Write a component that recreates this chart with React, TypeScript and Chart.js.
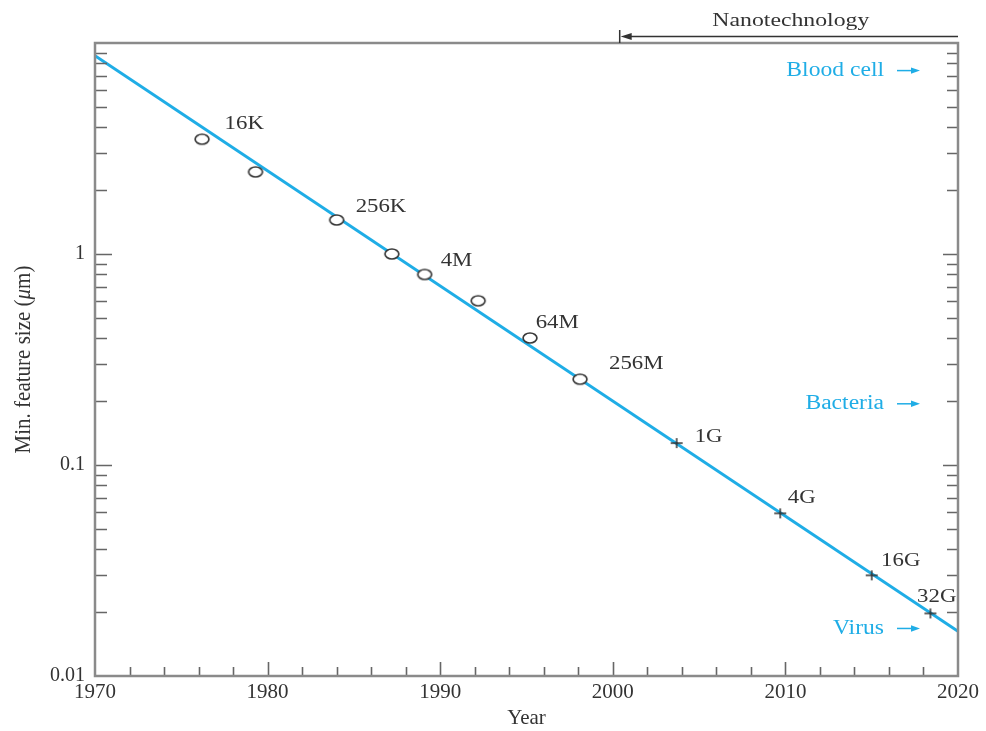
import React, { useEffect, useRef } from 'react';
import { Chart, registerables } from 'chart.js';

Chart.register(...registerables);

// ---------------- data ----------------
const xTickYears = [1970, 1980, 1990, 2000, 2010, 2020];
const yTickValues = [0.01, 0.1, 1];
const yTickLabels = ['0.01', '0.1', '1'];

const fitYears = [1970, 2020];
const fitSizes = [8.7, 0.0163];

const circleYears = [1976.2, 1979.3, 1984.0, 1987.2, 1989.1, 1992.2, 1995.2, 1998.1];
const circleSizes = [3.5, 2.45, 1.45, 1.0, 0.8, 0.6, 0.4, 0.255];
const circleLabels = ['16K', '', '256K', '', '4M', '', '64M', '256M'];

const plusYears = [2003.7, 2009.7, 2015.0, 2018.4];
const plusSizes = [0.127, 0.059, 0.03, 0.0198];
const plusLabels = ['1G', '4G', '16G', '32G'];

const refNames = ['Blood cell', 'Bacteria', 'Virus'];
const refSizes = [7.4, 0.195, 0.0168];

const nanoStartYear = 2000.4;
const nanoLabel = 'Nanotechnology';

const xTitle = 'Year';
const yTitleParts = ['Min. feature size (', 'μ', 'm)'];

// ---------------- styles ----------------
const FONT = '"Liberation Serif", "Times New Roman", serif';
const BLUE = '#1fade6';
const TEXT = '#333333';
const AXIS = '#8a8a8a';
const TICK = '#666666';
const STRETCH = 1.2;

// label offsets (dx to text left edge, dy to text middle) relative to the marker
const LABEL_OFFSETS: Record<string, [number, number]> = {
  '16K': [22.6, -15],
  '256K': [19, -13.3],
  '4M': [16, -13],
  '64M': [5.7, -15],
  '256M': [29, -15],
  '1G': [18, -6],
  '4G': [7.6, -15],
  '16G': [9.4, -14],
  '32G': [-13.3, -16.7],
};

function makeCircle(): HTMLCanvasElement {
  const c = document.createElement('canvas');
  c.width = 18;
  c.height = 14;
  const g = c.getContext('2d')!;
  g.beginPath();
  g.ellipse(9, 7, 6.9, 5.0, 0, 0, Math.PI * 2);
  g.fillStyle = '#ffffff';
  g.fill();
  g.lineWidth = 1.7;
  g.strokeStyle = '#3a3a3a';
  g.stroke();
  return c;
}

function makePlus(): HTMLCanvasElement {
  const c = document.createElement('canvas');
  c.width = 14;
  c.height = 12;
  const g = c.getContext('2d')!;
  g.strokeStyle = '#333333';
  g.lineWidth = 1.5;
  g.beginPath();
  g.moveTo(1, 6);
  g.lineTo(13, 6);
  g.moveTo(7, 1);
  g.lineTo(7, 11);
  g.stroke();
  return c;
}

function sText(ctx: CanvasRenderingContext2D, text: string, x: number, y: number, sx: number, align: CanvasTextAlign) {
  ctx.save();
  ctx.translate(x, y);
  ctx.scale(sx, 1);
  ctx.textAlign = align;
  ctx.textBaseline = 'middle';
  ctx.fillText(text, 0, 0);
  ctx.restore();
}

const decorPlugin = {
  id: 'decor',
  afterDraw(chart: any) {
    const ctx: CanvasRenderingContext2D = chart.ctx;
    const ca = chart.chartArea;
    const xs = chart.scales.x;
    const ys = chart.scales.y;
    ctx.save();

    // ticks on left / right / bottom (inward)
    ctx.strokeStyle = TICK;
    ctx.lineWidth = 1.6;
    ctx.beginPath();
    for (const d of [0.01, 0.1, 1]) {
      for (let m = 1; m <= 9; m++) {
        if (d === 0.01 && m === 1) continue;
        const py = Math.round(ys.getPixelForValue(d * m)) + 0.5;
        const major = m === 1;
        ctx.moveTo(ca.left, py);
        ctx.lineTo(ca.left + (major ? 17 : 12), py);
        ctx.moveTo(ca.right, py);
        ctx.lineTo(ca.right - (major ? 15 : 11), py);
      }
    }
    for (let yr = 1972; yr < 2020; yr += 2) {
      const px = Math.round(xs.getPixelForValue(yr)) + 0.5;
      const major = yr % 10 === 0;
      ctx.moveTo(px, ca.bottom);
      ctx.lineTo(px, ca.bottom - (major ? 14 : 9));
    }
    ctx.stroke();

    // frame
    ctx.strokeStyle = AXIS;
    ctx.lineWidth = 2.5;
    ctx.beginPath();
    ctx.moveTo(ca.left, ca.top);
    ctx.lineTo(ca.right, ca.top);
    ctx.lineTo(ca.right, ca.bottom);
    ctx.lineTo(ca.left, ca.bottom);
    ctx.closePath();
    ctx.stroke();

    // y-axis title with italic mu
    ctx.fillStyle = TEXT;
    {
      const normal = `21px ${FONT}`;
      const italic = `italic 21px ${FONT}`;
      const fonts = [normal, italic, normal];
      let total = 0;
      const widths = yTitleParts.map((p, i) => {
        ctx.font = fonts[i];
        const w = ctx.measureText(p).width;
        total += w;
        return w;
      });
      ctx.save();
      ctx.translate(24, (ca.top + ca.bottom) / 2);
      ctx.rotate(-Math.PI / 2);
      ctx.scale(1, 1.05);
      ctx.textBaseline = 'middle';
      ctx.textAlign = 'left';
      let cx = -total / 2;
      yTitleParts.forEach((p, i) => {
        ctx.font = fonts[i];
        ctx.fillText(p, cx, 0);
        cx += widths[i];
      });
      ctx.restore();
    }

    // point labels
    ctx.font = `19px ${FONT}`;
    const putLabels = (years: number[], sizes: number[], labels: string[]) => {
      labels.forEach((lab, i) => {
        if (!lab) return;
        const off = LABEL_OFFSETS[lab] || [12, -14];
        const px = xs.getPixelForValue(years[i]);
        const py = ys.getPixelForValue(sizes[i]);
        sText(ctx, lab, px + off[0], py + off[1], STRETCH, 'left');
      });
    };
    putLabels(circleYears, circleSizes, circleLabels);
    putLabels(plusYears, plusSizes, plusLabels);

    // reference sizes (blue)
    ctx.font = `20px ${FONT}`;
    ctx.fillStyle = BLUE;
    ctx.strokeStyle = BLUE;
    ctx.lineWidth = 1.5;
    refNames.forEach((name, i) => {
      const py = ys.getPixelForValue(refSizes[i]);
      const aEnd = ca.right - 38;
      const aStart = aEnd - 23;
      ctx.beginPath();
      ctx.moveTo(aStart, py);
      ctx.lineTo(aEnd - 6, py);
      ctx.stroke();
      ctx.beginPath();
      ctx.moveTo(aEnd, py);
      ctx.lineTo(aEnd - 9, py - 3.2);
      ctx.lineTo(aEnd - 9, py + 3.2);
      ctx.closePath();
      ctx.fill();
      sText(ctx, name, aStart - 13, py, 1.18, 'right');
    });

    // nanotechnology bracket
    const nx = xs.getPixelForValue(nanoStartYear);
    const ny = ca.top - 6.5;
    ctx.strokeStyle = '#333333';
    ctx.fillStyle = '#333333';
    ctx.lineWidth = 1.5;
    ctx.beginPath();
    ctx.moveTo(nx, ca.top - 13);
    ctx.lineTo(nx, ca.top);
    ctx.moveTo(nx + 10, ny);
    ctx.lineTo(ca.right, ny);
    ctx.stroke();
    ctx.beginPath();
    ctx.moveTo(nx + 1, ny);
    ctx.lineTo(nx + 12, ny - 3.5);
    ctx.lineTo(nx + 12, ny + 3.5);
    ctx.closePath();
    ctx.fill();
    ctx.font = `19px ${FONT}`;
    sText(ctx, nanoLabel, (nx + ca.right) / 2 + 2, ca.top - 22, 1.25, 'center');

    ctx.restore();
  },
};

export default function App() {
  const ref = useRef<HTMLCanvasElement | null>(null);

  useEffect(() => {
    if (!ref.current) return;
    const chart = new Chart(ref.current, {
      type: 'scatter',
      data: {
        datasets: [
          {
            label: 'DRAM (circles)',
            data: circleYears.map((x, i) => ({ x, y: circleSizes[i] })),
            pointStyle: makeCircle() as any,
            pointRadius: 7,
            showLine: false,
          },
          {
            label: 'DRAM (plus)',
            data: plusYears.map((x, i) => ({ x, y: plusSizes[i] })),
            pointStyle: makePlus() as any,
            pointRadius: 6,
            showLine: false,
          },
          {
            label: 'Trend',
            data: fitYears.map((x, i) => ({ x, y: fitSizes[i] })),
            showLine: true,
            borderColor: BLUE,
            borderWidth: 3,
            pointRadius: 0,
          },
        ],
      },
      options: {
        animation: false,
        responsive: true,
        maintainAspectRatio: false,
        layout: { padding: { top: 43, right: 28, left: 0, bottom: 0 } },
        plugins: { legend: { display: false }, tooltip: { enabled: false } },
        scales: {
          x: {
            type: 'linear',
            min: 1970,
            max: 2020,
            afterBuildTicks: (s: any) => {
              s.ticks = xTickYears.map((v) => ({ value: v }));
            },
            afterFit: (s: any) => {
              s.height = 55;
            },
            ticks: {
              font: { family: FONT, size: 21 },
              color: TEXT,
              padding: 4,
              maxRotation: 0,
              autoSkip: false,
              callback: (v: any) => String(v),
            },
            grid: { display: false, drawTicks: false },
            border: { display: false },
            title: { display: true, text: xTitle, font: { family: FONT, size: 21 }, color: TEXT, padding: 0 },
          },
          y: {
            type: 'logarithmic',
            min: 0.01,
            max: 10,
            afterBuildTicks: (s: any) => {
              s.ticks = yTickValues.map((v) => ({ value: v }));
            },
            afterFit: (s: any) => {
              s.width = 95;
            },
            ticks: {
              font: { family: FONT, size: 20 },
              color: TEXT,
              padding: 10,
              autoSkip: false,
              callback: (_v: any, i: number) => yTickLabels[i],
            },
            grid: { display: false, drawTicks: false },
            border: { display: false },
            title: { display: false },
          },
        },
      },
      plugins: [decorPlugin],
    } as any);
    return () => chart.destroy();
  }, []);

  return (
    <div style={{ position: 'absolute', left: 0, top: 0, width: 986, height: 731, background: '#fff' }}>
      <canvas ref={ref} />
    </div>
  );
}
